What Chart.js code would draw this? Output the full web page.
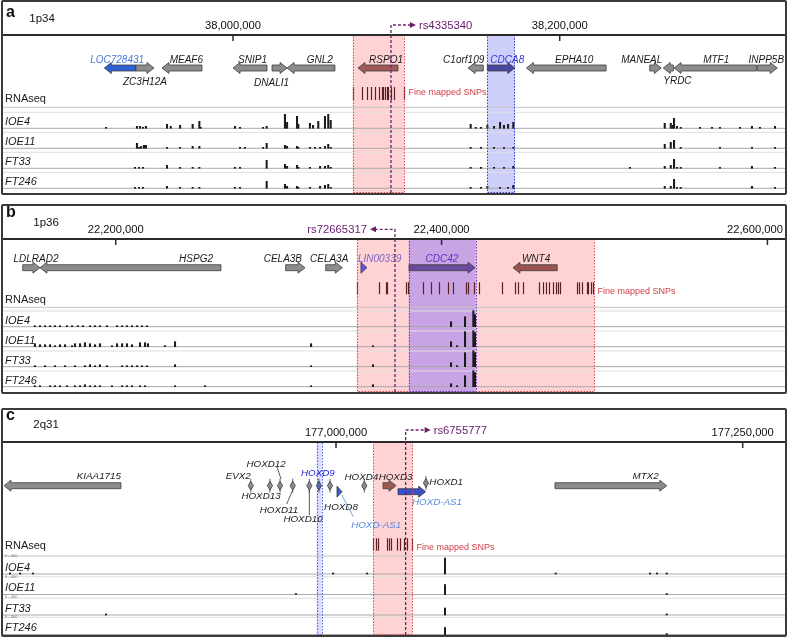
<!DOCTYPE html>
<html>
<head>
<meta charset="utf-8">
<script src="https://cdn.jsdelivr.net/npm/chart.js@4.4.1/dist/chart.umd.min.js"></script>
<style>
  body { margin: 0; background: #fff; width: 788px; height: 638px; position: relative; overflow: hidden; }
  .panel { position: absolute; left: 1px; width: 786px; box-sizing: border-box; border: 2px solid #3a3a3a; border-radius: 2px; }
  .panel canvas { display: block; }
</style>
</head>
<body>
<div class="panel" style="top:0;height:195px"><canvas id="ca" width="782" height="191"></canvas></div>
<div class="panel" style="top:204px;height:190px"><canvas id="cb" width="782" height="186"></canvas></div>
<div class="panel" style="top:408px;height:229px"><canvas id="cc" width="782" height="225"></canvas></div>
<script>
const trackNames = ['IOE4', 'IOE11', 'FT33', 'FT246'];

// ---------- panel a : 1p34 ----------
const aRange = [37859190, 38337930];
const aTicks = [38000000, 38200000];
const aGeneNames = ['LOC728431', 'ZC3H12A', 'MEAF6', 'SNIP1', 'DNALI1', 'GNL2', 'RSPO1', 'C1orf109', 'CDCA8', 'EPHA10', 'MANEAL', 'YRDC', 'MTF1', 'INPP5B'];
const aGeneStarts = [37921200, 37940600, 37956500, 38000000, 38023900, 38033100, 38076500, 38143900, 38155700, 38179600, 38255100, 38263400, 38270000, 38321000];
const aGeneEnds = [37940600, 37951600, 37981000, 38020800, 38033100, 38062400, 38101000, 38153200, 38172500, 38228400, 38262200, 38269600, 38320400, 38333200];
const aGeneStrands = ['-', '+', '-', '-', '+', '-', '-', '-', '+', '-', '+', '-', '-', '+'];
const aSnps = [38073600, 38079200, 38081900, 38084500, 38086900, 38089600, 38091000, 38092000, 38093100, 38094100, 38095100, 38096700, 38098700, 38104700];
const aRegions = [[38073300, 38104700], [38155700, 38172500]];
const aLeadSnp = 'rs4335340';
const aLeadPos = 38096700;
const aIOE4 = [[37922300,1],[37941200,2],[37943100,2],[37944900,1],[37946700,2],[37959600,4],[37961900,2],[37967600,3],[37975300,4],[37979400,7],[37980200,1],[38001200,2],[38004300,1],[38018400,1],[38020600,2],[38031800,14],[38033100,6],[38039200,12],[38040000,4],[38047100,5],[38049000,3],[38052200,7],[38056300,12],[38058300,14],[38059800,8],[38145500,4],[38148600,1],[38151800,1],[38155700,3],[38159800,2],[38163500,6],[38165900,3],[38168400,4],[38171600,6],[38264300,5],[38268000,5],[38269100,3],[38270000,10],[38271800,2],[38274100,1],[38285900,1],[38293200,1],[38298100,1],[38310400,1],[38317700,2],[38322600,1],[38331800,2]];
const aIOE11 = [[37941200,5],[37942500,1],[37943800,2],[37945500,3],[37946700,3],[37959600,1],[37967600,1],[37975300,2],[37979400,2],[38004300,1],[38007300,1],[38018400,1],[38020600,5],[38031800,3],[38033100,2],[38039200,2],[38040000,1],[38047100,1],[38050200,1],[38053300,1],[38056300,2],[38058300,4],[38059800,1],[38145500,1],[38151800,1],[38159800,1],[38165900,1],[38171600,1],[38264300,4],[38268000,6],[38270000,8],[38274100,1],[38298100,1],[38317700,1],[38331800,1]];
const aFT33 = [[37940000,1],[37942500,1],[37944900,1],[37959600,3],[37967600,1],[37975300,1],[37979400,1],[38001200,1],[38004300,1],[38020600,8],[38031800,4],[38033100,2],[38039200,3],[38040000,1],[38047100,1],[38053300,2],[38056300,2],[38058300,3],[38059800,1],[38145500,1],[38151800,1],[38159800,1],[38165900,1],[38171600,2],[38243000,1],[38264300,2],[38268000,3],[38270000,9],[38271800,1],[38274100,1],[38298100,1],[38317700,2],[38331800,1]];
const aFT246 = [[37940000,1],[37942500,1],[37944900,1],[37959600,2],[37967600,1],[37975300,1],[37979400,1],[38001200,1],[38004300,1],[38020600,7],[38031800,4],[38033100,2],[38039200,2],[38040000,1],[38047100,1],[38053300,2],[38056300,3],[38058300,4],[38059800,1],[38145500,1],[38151800,1],[38155700,2],[38163500,1],[38168400,1],[38171600,3],[38264300,2],[38268000,2],[38270000,9],[38271800,1],[38274100,1],[38317700,2],[38331800,1]];

// ---------- panel b : 1p36 ----------
const bRange = [22130810, 22610790];
const bTicks = [22200000, 22400000, 22600000];
const bGeneNames = ['LDLRAD2', 'HSPG2', 'CELA3B', 'CELA3A', 'LIN00339', 'CDC42', 'WNT4'];
const bGeneStarts = [22142900, 22153500, 22304300, 22328900, 22350500, 22380000, 22443800];
const bGeneEnds = [22153500, 22264600, 22316200, 22339100, 22354200, 22420500, 22471000];
const bGeneStrands = ['+', '-', '+', '+', '+', '+', '-'];
const bSnps = [22347900, 22361800, 22365900, 22366800, 22378200, 22379600, 22388800, 22393300, 22398400, 22404100, 22407200, 22415000, 22416400, 22420100, 22423200, 22437300, 22445100, 22447100, 22449800, 22459800, 22462100, 22464100, 22466100, 22468200, 22470200, 22471600, 22472700, 22482900, 22484500, 22486000, 22489100, 22490100, 22491500, 22493100];
const bRegions = [[22347900, 22493600], [22379800, 22421000]];
const bLeadSnp = 'rs72665317';
const bLeadPos = 22371400;
const bIOE4 = [[22150400,1],[22153500,1],[22156600,1],[22159700,1],[22162700,1],[22165800,1],[22170100,1],[22173200,1],[22176800,1],[22179900,1],[22184200,1],[22187300,1],[22190300,1],[22194600,1],[22200800,1],[22203900,1],[22206900,1],[22210000,1],[22213100,1],[22216100,1],[22219200,1],[22405800,5],[22414400,10],[22419500,16],[22420500,12]];
const bIOE11 = [[22150400,3],[22153500,2],[22156600,2],[22159700,2],[22162700,1],[22165800,2],[22168900,2],[22173200,1],[22175000,3],[22178100,3],[22181100,4],[22184200,3],[22187300,2],[22190300,3],[22197700,1],[22200800,3],[22203900,3],[22206900,3],[22210000,2],[22214900,4],[22218000,4],[22219800,3],[22230200,1],[22236400,5],[22319900,3],[22357900,1],[22405800,5],[22409500,1],[22414400,15],[22419500,16],[22420500,14]];
const bFT33 = [[22150400,1],[22156600,1],[22162700,1],[22168900,1],[22175000,1],[22181100,1],[22184200,2],[22187300,1],[22190300,2],[22194600,1],[22203900,1],[22206900,1],[22210000,1],[22213100,1],[22216100,1],[22219200,1],[22236400,2],[22319900,1],[22357900,2],[22405800,4],[22409500,1],[22414400,14],[22419500,16],[22420500,14]];
const bFT246 = [[22150400,1],[22153500,1],[22159700,1],[22162700,1],[22165800,1],[22170100,1],[22175000,1],[22178100,1],[22181100,2],[22184200,1],[22187300,1],[22190300,1],[22197700,1],[22203900,1],[22206900,1],[22210000,1],[22214900,1],[22218000,1],[22236400,1],[22254800,1],[22319900,1],[22357900,2],[22405800,3],[22409500,1],[22414400,11],[22419500,16],[22420500,14]];

// ---------- panel c : 2q31 ----------
const cRange = [176795300, 177276000];
const cTicks = [177000000, 177250000];
const cGeneNames = ['KIAA1715', 'EVX2', 'HOXD13', 'HOXD12', 'HOXD11', 'HOXD10', 'HOXD9', 'HOXD8', 'HOXD-AS1', 'HOXD4', 'HOXD3', 'HOXD-AS1', 'HOXD1', 'MTX2'];
const cGeneStarts = [176795900, 176947000, 176959000, 176965200, 176973000, 176983200, 176989100, 176995900, 177000600, 177017000, 177028900, 177038100, 177054900, 177134600];
const cGeneEnds = [176867800, 176948200, 176959800, 176966000, 176973800, 176984000, 176989900, 176996700, 177003700, 177017800, 177036900, 177055100, 177055700, 177203300];
const cGeneStrands = ['-', '-', '+', '+', '+', '+', '+', '+', '+', '+', '+', '+', '+', '+'];
const cSnps = [177022900, 177024400, 177026000, 177031500, 177032800, 177033600, 177037700, 177039300, 177041800, 177043800, 177046500];
const cRegions = [[176988100, 176991200], [177022900, 177046900]];
const cLeadSnp = 'rs6755777';
const cLeadPos = 177042800;
const cIOE4 = [[176799600,1],[176805800,1],[176813700,1],[176998200,1],[177019100,1],[177067000,16],[177135100,1],[177193000,1],[177197300,1],[177203300,1]];
const cIOE11 = [[176975400,1],[177067000,10],[177203300,1]];
const cFT33 = [[176858600,1],[177067000,7],[177203300,1]];
const cFT246 = [[177067000,7],[177203300,1]];
const cScaleLabel = '0 - 400';

// ---------- drawing ----------
const FONT = "'Liberation Sans', Arial, Helvetica, sans-serif";
const GRAY = '#8c8c8c';
const PINK = { fill: '#ffd3d3', border: '#e0444c' };

function textMid(ctx, str, x, yMid, size, color, align = 'left', style = '') {
  ctx.font = `${style} ${size}px ${FONT}`;
  ctx.fillStyle = color;
  ctx.textAlign = align;
  ctx.textBaseline = 'alphabetic';
  ctx.fillText(str, x, yMid + size * 0.36);
}

function drawGene(ctx, x1, x2, y, strand, fill) {
  const w = x2 - x1;
  ctx.fillStyle = fill;
  ctx.strokeStyle = '#3c3c3c';
  ctx.lineWidth = 0.8;
  if (w < 3) {
    const cx = (x1 + x2) / 2;
    ctx.beginPath(); ctx.moveTo(cx, y - 7); ctx.lineTo(cx, y + 7); ctx.stroke();
    ctx.beginPath();
    ctx.moveTo(cx, y - 4.5); ctx.lineTo(cx + 2.6, y); ctx.lineTo(cx, y + 4.5); ctx.lineTo(cx - 2.6, y);
    ctx.closePath(); ctx.fill(); ctx.stroke();
    return;
  }
  const head = Math.min(7, w), bh = 3, hh = 5.5;
  ctx.beginPath();
  if (strand === '+') {
    ctx.moveTo(x1, y - bh); ctx.lineTo(x2 - head, y - bh); ctx.lineTo(x2 - head, y - hh);
    ctx.lineTo(x2, y); ctx.lineTo(x2 - head, y + hh); ctx.lineTo(x2 - head, y + bh); ctx.lineTo(x1, y + bh);
  } else {
    ctx.moveTo(x2, y - bh); ctx.lineTo(x1 + head, y - bh); ctx.lineTo(x1 + head, y - hh);
    ctx.lineTo(x1, y); ctx.lineTo(x1 + head, y + hh); ctx.lineTo(x1 + head, y + bh); ctx.lineTo(x2, y + bh);
  }
  ctx.closePath(); ctx.fill(); ctx.stroke();
}

function genomePlugin(p) {
  return {
    id: 'genome',
    beforeDraw(chart) {
      const ctx = chart.ctx;
      ctx.save();
      ctx.fillStyle = '#fff';
      ctx.fillRect(0, 0, chart.width, chart.height);
      ctx.restore();
    },
    beforeDatasetsDraw(chart) {
      const { ctx, chartArea: ca } = chart;
      const x = chart.scales.x;
      const T = ca.top;
      const L = p.layout;
      ctx.save();
      // highlighted regions
      p.regions.forEach((r, i) => {
        const x1 = x.getPixelForValue(r[0]), x2 = x.getPixelForValue(r[1]);
        ctx.fillStyle = p.regionLook[i].fill;
        ctx.fillRect(x1, T, x2 - x1, ca.bottom - T);
      });
      // track rules
      ctx.lineWidth = 1;
      L.rnaLines.forEach((y, i) => {
        ctx.strokeStyle = i === 0 ? '#c4c4c4' : '#dedede';
        ctx.beginPath(); ctx.moveTo(0, T + y); ctx.lineTo(chart.width, T + y); ctx.stroke();
      });
      L.separators.forEach(y => {
        ctx.strokeStyle = '#dedede';
        ctx.beginPath(); ctx.moveTo(0, T + y); ctx.lineTo(chart.width, T + y); ctx.stroke();
      });
      L.baselines.forEach(y => {
        ctx.strokeStyle = '#a8a8a8';
        ctx.beginPath(); ctx.moveTo(0, T + y); ctx.lineTo(chart.width, T + y); ctx.stroke();
      });
      // genes
      p.names.forEach((name, i) => {
        const look = p.look[i];
        const x1 = x.getPixelForValue(p.starts[i]), x2 = x.getPixelForValue(p.ends[i]);
        const gy = T + (look.row ?? L.geneY);
        const cx = (x1 + x2) / 2;
        if (look.lead) {
          ctx.strokeStyle = look.color || '#333';
          ctx.lineWidth = 0.8;
          ctx.beginPath();
          ctx.moveTo(cx + look.lead[0], T + look.lead[1]);
          ctx.lineTo(cx + look.lead[2], T + look.lead[3]);
          ctx.stroke();
        }
        drawGene(ctx, x1, x2, gy, p.strands[i], look.fill || GRAY);
        const lx = look.align === 'left' ? x1 + look.dx : look.align === 'right' ? x2 + look.dx : cx + look.dx;
        textMid(ctx, name, lx, T + look.y, L.geneFont, look.color || '#1a1a1a', look.align, 'italic');
      });
      // fine mapped SNPs
      ctx.strokeStyle = '#5c1f22';
      ctx.lineWidth = 1.2;
      let lastX = 0;
      p.snps.forEach(s => {
        const sx = Math.round(x.getPixelForValue(s)) + 0.5;
        lastX = Math.max(lastX, sx);
        ctx.beginPath(); ctx.moveTo(sx, T + L.snpTop); ctx.lineTo(sx, T + L.snpBottom); ctx.stroke();
      });
      textMid(ctx, 'Fine mapped SNPs', lastX + 4, T + L.snpLabelY, 9, '#d0404a');
      // row labels
      textMid(ctx, 'RNAseq', 2, T + L.rnaLabelY, 11, '#1a1a1a');
      trackNames.forEach((t, i) => {
        textMid(ctx, t, 2, T + L.baselines[i] - 7, 11, '#1a1a1a', 'left', 'italic');
        if (p.scaleLabel) textMid(ctx, p.scaleLabel, 2, T + L.baselines[i] - 18, 4, '#777');
      });
      ctx.restore();
    },
    afterDatasetsDraw(chart) {
      const { ctx, chartArea: ca } = chart;
      const x = chart.scales.x;
      const T = ca.top;
      const H = p.header;
      ctx.save();
      // dotted region borders
      ctx.lineWidth = 1;
      ctx.setLineDash([1.5, 1.5]);
      p.regions.forEach((r, i) => {
        const x1 = x.getPixelForValue(r[0]), x2 = x.getPixelForValue(r[1]);
        ctx.strokeStyle = p.regionLook[i].border;
        ctx.strokeRect(Math.round(x1) + 0.5, T, Math.round(x2 - x1), ca.bottom - T - 0.5);
      });
      ctx.setLineDash([]);
      // divider + ticks
      ctx.strokeStyle = '#2a2a2a';
      ctx.lineWidth = 2;
      ctx.beginPath(); ctx.moveTo(0, T); ctx.lineTo(chart.width, T); ctx.stroke();
      ctx.lineWidth = 1.5;
      p.ticks.forEach(t => {
        const tx = x.getPixelForValue(t);
        ctx.beginPath(); ctx.moveTo(tx, T); ctx.lineTo(tx, T + 6); ctx.stroke();
        const lbl = t.toLocaleString('en-US');
        ctx.font = `11.2px ${FONT}`;
        const w = ctx.measureText(lbl).width;
        const lx = Math.min(tx, chart.width - 2 - w / 2);
        textMid(ctx, lbl, lx, T + H.tickY, 11.2, '#111', 'center');
      });
      // panel letter and band
      ctx.font = `bold 16px ${FONT}`;
      ctx.fillStyle = '#111';
      ctx.textAlign = 'left';
      ctx.textBaseline = 'alphabetic';
      ctx.fillText(H.letter, 3, H.letterBase);
      ctx.font = `11.5px ${FONT}`;
      ctx.fillText(H.band, H.bandX, H.bandBase);
      // lead SNP dashed pointer
      const rx = x.getPixelForValue(p.leadPos);
      const ry = T + H.rsY;
      const tip = rx + H.rsDir * 25;
      ctx.strokeStyle = '#6b1f6b';
      ctx.fillStyle = '#6b1f6b';
      ctx.lineWidth = 1.3;
      ctx.setLineDash([3, 2]);
      ctx.beginPath();
      ctx.moveTo(rx, ca.bottom); ctx.lineTo(rx, ry); ctx.lineTo(tip - H.rsDir * 5, ry);
      ctx.stroke();
      ctx.setLineDash([]);
      ctx.beginPath();
      ctx.moveTo(tip, ry); ctx.lineTo(tip - H.rsDir * 6, ry - 3); ctx.lineTo(tip - H.rsDir * 6, ry + 3);
      ctx.closePath(); ctx.fill();
      textMid(ctx, p.leadName, tip + H.rsDir * 3, ry, 11.3, '#6a2070', H.rsDir > 0 ? 'left' : 'right');
      ctx.restore();
    }
  };
}

function makePanel(canvasId, p) {
  const canvas = document.getElementById(canvasId);
  const top = p.layout.top;
  const h = canvas.height - top;
  const scales = {
    x: { type: 'linear', min: p.range[0], max: p.range[1], display: false, offset: false }
  };
  p.layout.baselines.forEach((b, i) => {
    scales['y' + i] = { type: 'linear', display: false, min: b - h, max: b };
  });
  return new Chart(canvas, {
    type: 'bar',
    data: {
      datasets: p.tracks.map((t, i) => ({
        label: trackNames[i],
        data: t.map(([pos, v]) => ({ x: pos, y: v })),
        yAxisID: 'y' + i,
        backgroundColor: '#1c1c1c',
        barThickness: 1.4,
        grouped: false
      }))
    },
    options: {
      responsive: false,
      animation: false,
      events: [],
      layout: { padding: { top: top, left: 0, right: 0, bottom: 0 } },
      plugins: { legend: { display: false }, tooltip: { enabled: false } },
      scales
    },
    plugins: [genomePlugin(p)]
  });
}

makePanel('ca', {
  range: aRange, ticks: aTicks,
  names: aGeneNames, starts: aGeneStarts, ends: aGeneEnds, strands: aGeneStrands,
  snps: aSnps, regions: aRegions, leadName: aLeadSnp, leadPos: aLeadPos,
  tracks: [aIOE4, aIOE11, aFT33, aFT246],
  regionLook: [PINK, { fill: '#cfcffb', border: '#3a3ad4' }],
  look: [
    { fill: '#2f5fd0', color: '#4d79d6', align: 'center', dx: -3, y: 24.3 },
    { align: 'center', dx: 0, y: 46 },
    { align: 'right', dx: 1, y: 24.3 },
    { align: 'right', dx: 0, y: 24.3 },
    { align: 'right', dx: 2, y: 47 },
    { align: 'right', dx: -2, y: 24.3 },
    { fill: '#a05858', align: 'right', dx: 5, y: 24.3 },
    { align: 'right', dx: 1, y: 24.3 },
    { fill: '#48489e', color: '#2b3bd0', align: 'left', dx: 3, y: 24.3 },
    { align: 'center', dx: 8, y: 24.3 },
    { align: 'right', dx: 1, y: 24.3 },
    { align: 'left', dx: 0, y: 45.7 },
    { align: 'center', dx: 1, y: 24.3 },
    { align: 'center', dx: -1, y: 24.3 }
  ],
  layout: {
    top: 33, geneY: 33, geneFont: 10,
    snpTop: 52, snpBottom: 65, snpLabelY: 56.7, rnaLabelY: 63,
    rnaLines: [72.3, 77.3], separators: [97.3, 117.3, 137.3],
    baselines: [93.3, 113.3, 133.3, 153.3]
  },
  header: { letter: 'a', letterBase: 14.7, band: '1p34', bandX: 26.3, bandBase: 20, tickY: -10, rsY: -10, rsDir: 1 }
});

makePanel('cb', {
  range: bRange, ticks: bTicks,
  names: bGeneNames, starts: bGeneStarts, ends: bGeneEnds, strands: bGeneStrands,
  snps: bSnps, regions: bRegions, leadName: bLeadSnp, leadPos: bLeadPos,
  tracks: [bIOE4, bIOE11, bFT33, bFT246],
  regionLook: [PINK, { fill: '#c9a4e4', border: '#5a3cc0' }],
  look: [
    { align: 'center', dx: 4.6, y: 19.3 },
    { align: 'right', dx: -8, y: 19.3 },
    { align: 'right', dx: -3, y: 19.3 },
    { align: 'right', dx: 6, y: 19.3 },
    { fill: '#6a52d8', color: '#7a64c8', align: 'left', dx: -3, y: 19.3 },
    { fill: '#6a4a9c', color: '#5a34c4', align: 'center', dx: 0, y: 19.3 },
    { fill: '#9a5252', align: 'center', dx: 1, y: 19.3 }
  ],
  layout: {
    top: 33, geneY: 28.7, geneFont: 10,
    snpTop: 43.3, snpBottom: 55.3, snpLabelY: 51.3, rnaLabelY: 60.2,
    rnaLines: [68.3, 72], separators: [92, 112, 132],
    baselines: [87.7, 107.7, 127.7, 147.7]
  },
  header: { letter: 'b', letterBase: 11, band: '1p36', bandX: 30.3, bandBase: 20, tickY: -9.7, rsY: -9.7, rsDir: -1 }
});

makePanel('cc', {
  range: cRange, ticks: cTicks,
  names: cGeneNames, starts: cGeneStarts, ends: cGeneEnds, strands: cGeneStrands,
  snps: cSnps, regions: cRegions, leadName: cLeadSnp, leadPos: cLeadPos,
  tracks: [cIOE4, cIOE11, cFT33, cFT246], scaleLabel: cScaleLabel,
  regionLook: [{ fill: '#d8dcff', border: '#4a5ae0' }, PINK],
  look: [
    { align: 'right', dx: 0, y: 33 },
    { align: 'right', dx: -1, y: 33 },
    { align: 'right', dx: 10, y: 53 },
    { align: 'center', dx: -14, y: 21.3, lead: [-3, 25, 1, 37] },
    { align: 'center', dx: -13.7, y: 67, lead: [0, 48, -6, 62] },
    { align: 'center', dx: -6.3, y: 76, lead: [0, 48, 0, 73] },
    { fill: '#5a6ab0', color: '#2424d8', align: 'center', dx: -1, y: 30.7 },
    { align: 'center', dx: 11, y: 64 },
    { fill: '#3a5ad8', color: '#5a8ce0', align: 'center', dx: 36.7, y: 82, row: 49.7, lead: [2.4, 53, 13.7, 74.7] },
    { align: 'center', dx: -3, y: 34.7 },
    { fill: '#9a5a52', align: 'center', dx: 6, y: 34.7 },
    { fill: '#3a4ec8', color: '#5a8ce0', align: 'left', dx: 14, y: 59, row: 49.7 },
    { align: 'left', dx: 4, y: 39, row: 41 },
    { align: 'right', dx: -8, y: 33 }
  ],
  layout: {
    top: 32, geneY: 43.7, geneFont: 9.8,
    snpTop: 96.3, snpBottom: 108.7, snpLabelY: 104.3, rnaLabelY: 102.7,
    rnaLines: [114], separators: [134.7, 156.3, 175.3],
    baselines: [132, 152.5, 173, 192.5]
  },
  header: { letter: 'c', letterBase: 9.5, band: '2q31', bandX: 30.3, bandBase: 18.3, tickY: -10.3, rsY: -12, rsDir: 1 }
});
</script>
</body>
</html>
